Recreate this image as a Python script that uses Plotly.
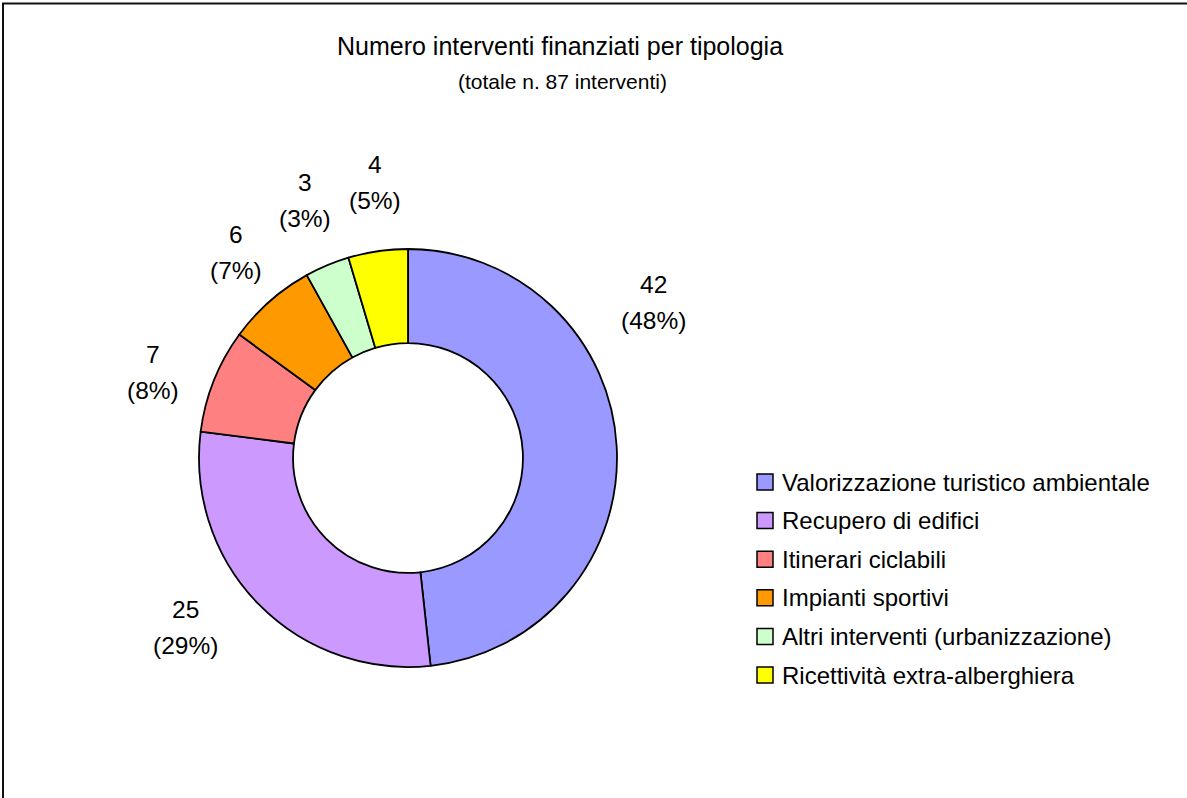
import math
import plotly.graph_objects as go

# Data
categories = [
    "Valorizzazione turistico ambientale",
    "Recupero di edifici",
    "Itinerari ciclabili",
    "Impianti sportivi",
    "Altri interventi (urbanizzazione)",
    "Ricettività extra-alberghiera",
]
counts = [42, 25, 7, 6, 3, 4]
colors = ["#9999FF", "#CC99FF", "#FF8080", "#FF9900", "#CCFFCC", "#FFFF00"]

title_text = "Numero interventi finanziati per tipologia"
subtitle_text = "(totale n. 87 interventi)"

# Page geometry (pixels)
W, H = 1187, 798
CX, CY, R = 408, 458, 209
FONT = "Liberation Sans, Arial, sans-serif"

# Label placement: angular nudge (deg) from the slice mid-angle, and distance from centre (px)
label_nudge = [-29.3, 7.1, -3.1, 1.5, 1.0, 1.5]
label_dist = [291, 280, 269, 268, 277, 277]


def px(x):
    return x / W


def py(y):
    return 1 - y / H


fig = go.Figure()
fig.add_trace(go.Pie(
    labels=categories,
    values=counts,
    sort=False,
    direction="clockwise",
    rotation=0,
    hole=0.55,
    textinfo="none",
    hoverinfo="label+value+percent",
    marker=dict(colors=colors, line=dict(color="black", width=1.8)),
    domain=dict(x=[px(CX - R), px(CX + R)], y=[py(CY + R), py(CY - R)]),
    showlegend=False,
))

annotations = []

# Data labels outside the ring
total = sum(counts)
cum = 0
for i, v in enumerate(counts):
    mid = (cum + v / 2) / total * 360
    cum += v
    a = math.radians(mid + label_nudge[i])
    lx = CX + label_dist[i] * math.sin(a)
    ly = CY - label_dist[i] * math.cos(a)
    pct = round(v / total * 100)
    for text, dy in ((str(v), -18), (f"({pct}%)", 18)):
        annotations.append(dict(
            x=px(lx), y=py(ly + dy), xref="paper", yref="paper",
            text=text, showarrow=False, xanchor="center", yanchor="middle",
            font=dict(family=FONT, size=24.5, color="black"),
        ))

# Title and subtitle
annotations.append(dict(
    x=px(560), y=py(46), xref="paper", yref="paper", text=title_text,
    showarrow=False, xanchor="center", yanchor="middle",
    font=dict(family=FONT, size=25, color="black"),
))
annotations.append(dict(
    x=px(562), y=py(82), xref="paper", yref="paper", text=subtitle_text,
    showarrow=False, xanchor="center", yanchor="middle",
    font=dict(family=FONT, size=21, color="black"),
))

# Legend: colour squares with labels
shapes = []
LEG_X, LEG_Y0, LEG_STEP, SQ = 757, 482, 38.6, 16
for i, (name, col) in enumerate(zip(categories, colors)):
    yc = LEG_Y0 + i * LEG_STEP
    shapes.append(dict(
        type="rect", xref="paper", yref="paper",
        x0=px(LEG_X), x1=px(LEG_X + SQ), y0=py(yc + SQ / 2), y1=py(yc - SQ / 2),
        fillcolor=col, line=dict(color="black", width=1.5),
    ))
    annotations.append(dict(
        x=px(780), y=py(yc), xref="paper", yref="paper", text=name,
        showarrow=False, xanchor="left", yanchor="middle",
        font=dict(family=FONT, size=24, color="black"),
    ))

# Chart frame (left and top edges visible)
shapes.append(dict(type="line", xref="paper", yref="paper",
                   x0=px(3), x1=px(3), y0=py(3.5), y1=py(H + 5),
                   line=dict(color="#111111", width=2)))
shapes.append(dict(type="line", xref="paper", yref="paper",
                   x0=px(2), x1=px(W + 5), y0=py(3.5), y1=py(3.5),
                   line=dict(color="#111111", width=2)))

fig.update_layout(
    width=W, height=H,
    margin=dict(l=0, r=0, t=0, b=0),
    paper_bgcolor="white", plot_bgcolor="white",
    annotations=annotations,
    shapes=shapes,
    showlegend=False,
)

fig.write_html("out.html")
